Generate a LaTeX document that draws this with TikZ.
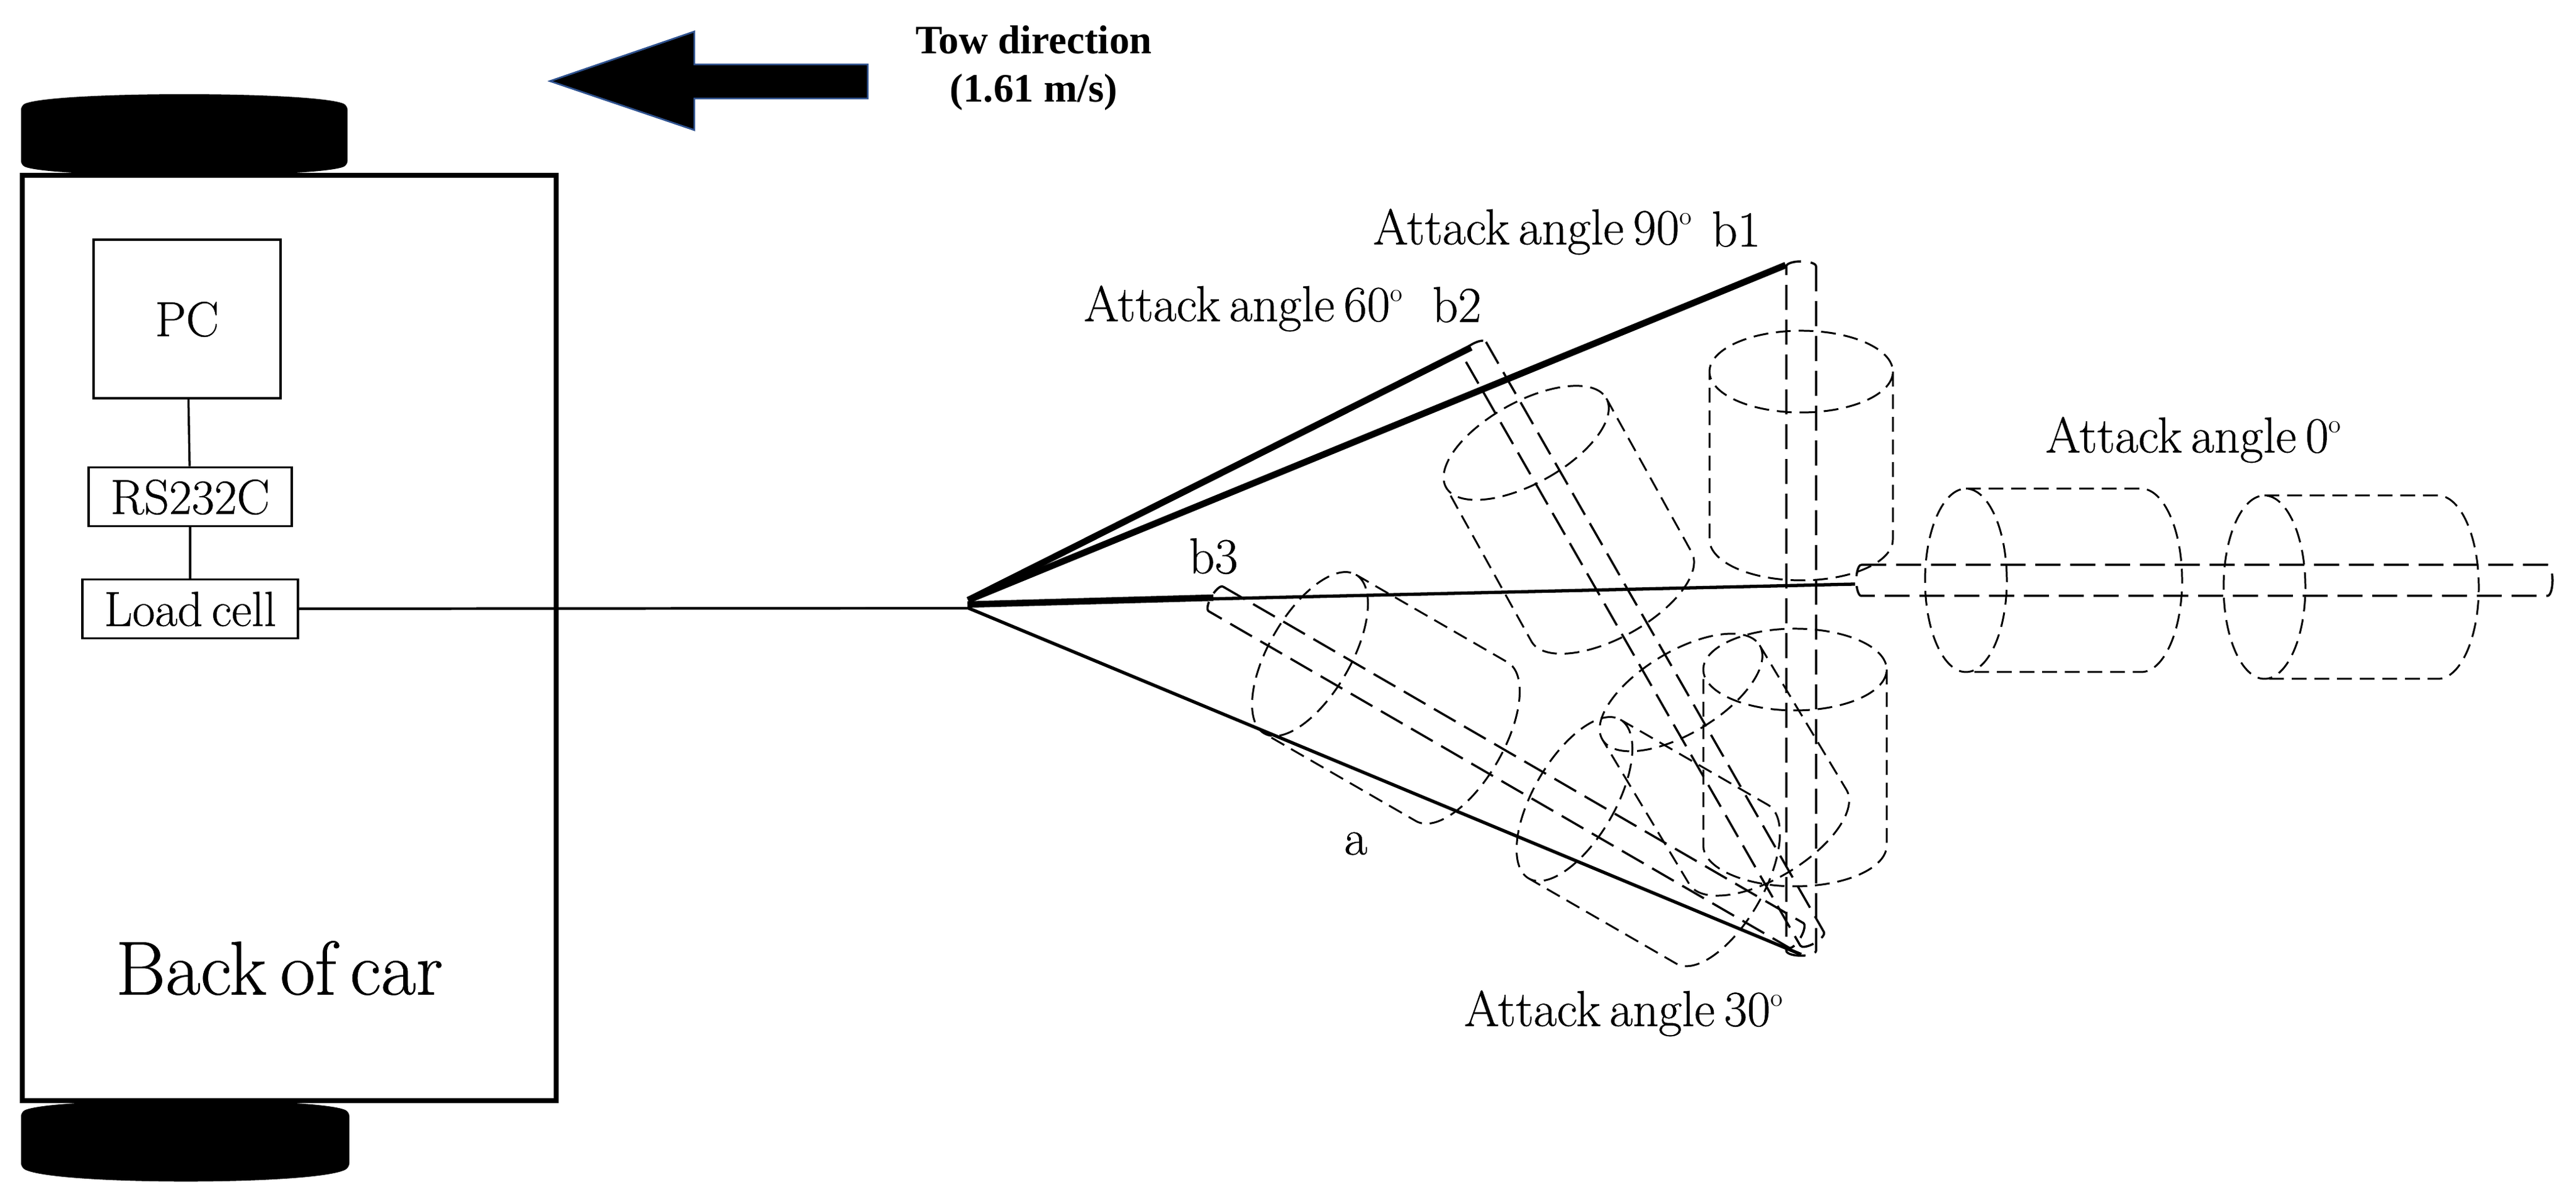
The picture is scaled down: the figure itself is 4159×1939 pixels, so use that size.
\documentclass[tikz,border=0pt]{standalone}
\usepackage{fontspec}
\newfontfamily\towfont{Liberation Serif}
\newfontfamily\tagfont{Latin Modern Roman}[FakeBold=0.6,WordSpace=0.6]
\definecolor{arrowblue}{RGB}{47,82,143}
\tikzset{
  infobox/.style={draw,line width=1pt,inner sep=0pt},
  tagtext/.style={font=\tagfont\fontsize{23.2}{27}\selectfont,inner sep=0pt},
  boxtext/.style={font=\tagfont\fontsize{22.6}{26}\selectfont,text depth=0pt},
  cylline/.style={line width=0.85pt,dash pattern=on 6.8pt off 3.6pt},
  rodline/.style={line width=1pt,dash pattern=on 11.5pt off 4.5pt},
  thickarm/.style={line width=3pt},
  thinarm/.style={line width=1.5pt}
}
\begin{document}
\begin{tikzpicture}[x=0.1mm,y=0.1mm]
                \useasboundingbox (0,0) rectangle (4159,1939);
                %% Wheels
                \fill[black,rounded corners=2pt] (34,1769) .. controls (90,1792) and (505,1792) .. (561,1769) -- (561,1672) .. controls (505,1651) and (90,1651) .. (34,1672) -- cycle;
                \fill[black,rounded corners=2pt] (34,144) .. controls (90,168) and (510,168) .. (564,144) -- (564,54) .. controls (510,25) and (90,25) .. (34,54) -- cycle;
                %% Car
                \node[draw,line width=2.3pt,minimum width=86.2mm,minimum height=149.4mm,inner sep=0pt] (car) at (467,909) {};
                \node[font=\tagfont\fontsize{35}{41}\selectfont,inner sep=0pt] (carlabel) at (451,376) {Back of car};
                \node[infobox,minimum width=30.2mm,minimum height=25.6mm,boxtext] (pc) at (302,1424) {PC};
                \node[infobox,minimum width=32.8mm,minimum height=9.5mm,boxtext] (rs) at (307,1137) {RS232C};
                \node[infobox,minimum width=34.8mm,minimum height=9.5mm,boxtext] (load) at (307,956) {Load cell};
                \draw[line width=1pt] (pc) -- (rs);
                \draw[line width=1pt] (rs) -- (load);
                %% Tow arrow
                \draw[fill=black,draw=arrowblue,line width=0.8pt] (888,1808) -- (1121,1888) -- (1121,1835) -- (1401,1835) -- (1401,1780) -- (1121,1780) -- (1121,1729) -- cycle;
                \node[font=\towfont\bfseries\fontsize{18.5}{22}\selectfont,align=center,inner sep=0pt] (tow) at (1669,1829) {Tow direction\\(1.61 m/s)};
                %% Cylinders
                \foreach \ang/\cx/\cy/\len in {0/3174/1002/283,0/3656/991/280,-90/2908/1339/271,-90/2898/858/284,-61/2464/1224/284,-59/2714/821/272,-30/2115/883/283,-30/2542/649/275}
                  \draw[cylline,shift={(\cx,\cy)},rotate=\ang] (0,0) ellipse [x radius=66,y radius=148]
                    (0,148) -- (\len,148) arc [start angle=90,end angle=-90,x radius=66,y radius=148] -- (0,-148);
                %% Rods
                \foreach \ang/\cx/\cy/\len/\hw in {0/3005/1002/1108/25,-90/2908/1509/1105/24,-60.2/2380/1376/1098/22,-30.1/1963/972/1083/23}
                  \draw[rodline,shift={(\cx,\cy)},rotate=\ang] (0,\hw) -- (\len,\hw) arc [start angle=90,end angle=-90,x radius=8,y radius=\hw] -- (0,-\hw) arc [start angle=270,end angle=90,x radius=8,y radius=\hw] -- cycle;
                %% Arms
                \coordinate (hub) at (1564,957);
                \coordinate (hubtop) at (1563,970);
                \coordinate (tipa) at (2908,398);
                \coordinate (tipb1) at (2883,1511);
                \coordinate (tipb2) at (2375,1378);
                \coordinate (tipb3) at (1959,974);
                \coordinate (tipzero) at (2995,996);
                \draw[line width=1.2pt] (load) -- (hub);
                \draw[thinarm] (hub) -- (tipa);
                \draw[thickarm] (hubtop) -- (tipb1);
                \draw[thickarm] (hubtop) -- (tipb2);
                \draw[thickarm] (1562,963) -- (tipb3);
                \draw[thinarm] (1562,963) -- (tipzero);
                %% Labels
                \node[tagtext] (angle90) at (2475,1565) {Attack angle 90$^{\scriptscriptstyle\mathrm{o}}$};
                \node[tagtext] (labelb1) at (2803,1569) {b1};
                \node[tagtext] (angle60) at (2008,1441) {Attack angle 60$^{\scriptscriptstyle\mathrm{o}}$};
                \node[tagtext] (labelb2) at (2352,1447) {b2};
                \node[tagtext] (labelb3) at (1959,1041) {b3};
                \node[tagtext] (labela) at (2189,577) {a};
                \node[tagtext] (angle30) at (2622,303) {Attack angle 30$^{\scriptscriptstyle\mathrm{o}}$};
                \node[tagtext] (angle0) at (3542,1229) {Attack angle 0$^{\scriptscriptstyle\mathrm{o}}$};
            \end{tikzpicture}
\end{document}
